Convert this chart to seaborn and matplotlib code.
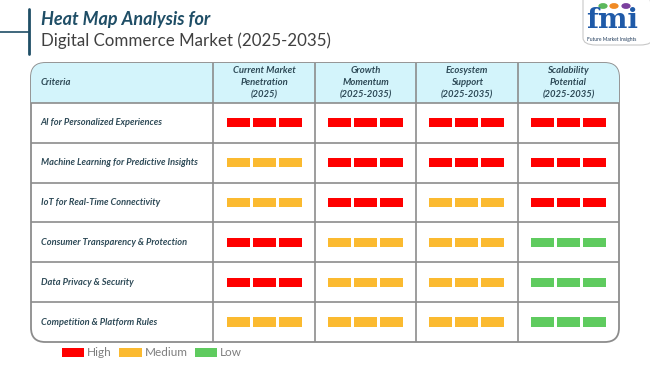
import numpy as np
import pandas as pd
import matplotlib
matplotlib.use('Agg')
import matplotlib.pyplot as plt
import seaborn as sns
from matplotlib.patches import FancyBboxPatch, Rectangle, Patch

# table content
criteria = ['AI for Personalized Experiences',
            'Machine Learning for Predictive Insights',
            'IoT for Real-Time Connectivity',
            'Consumer Transparency & Protection',
            'Data Privacy & Security',
            'Competition & Platform Rules']
columns = ['Current Market\nPenetration\n(2025)',
           'Growth\nMomentum\n(2025-2035)',
           'Ecosystem\nSupport\n(2025-2035)',
           'Scalability\nPotential\n(2025-2035)']
current_penetration = ['High', 'Medium', 'Medium', 'High', 'High', 'Medium']
growth_momentum = ['High', 'High', 'High', 'Medium', 'Medium', 'Medium']
ecosystem_support = ['High', 'High', 'Medium', 'Medium', 'Medium', 'Medium']
scalability_potential = ['High', 'High', 'High', 'Low', 'Low', 'Low']
levels = ['High', 'Medium', 'Low']
level_colors = {'High': '#FF0000', 'Medium': '#FBBA30', 'Low': '#5FCB5F'}

df = pd.DataFrame({columns[0]: current_penetration, columns[1]: growth_momentum,
                   columns[2]: ecosystem_support, columns[3]: scalability_potential},
                  index=criteria)

sns.set_theme(style='white')
plt.rcParams['font.family'] = ['Lato', 'DejaVu Sans']

fig = plt.figure(figsize=(6.5, 3.65), dpi=100)
txt_color = '#2E4A57'
line_color = '#8C8C8C'

# title block
fig.add_artist(plt.Line2D([29 / 650, 29 / 650], [1 - 9 / 365, 1 - 54 / 365], color='#1F4E66', lw=2))
fig.add_artist(plt.Line2D([0, 29 / 650], [1 - 32 / 365, 1 - 32 / 365], color='#1F4E66', lw=1.2))
fig.text(41 / 650, 1 - 19 / 365, 'Heat Map Analysis for', fontsize=13, fontweight='bold',
         fontstyle='italic', color='#1F4E66', va='center')
fig.text(41 / 650, 1 - 41 / 365, 'Digital Commerce Market (2025-2035)', fontsize=12.2,
         color='#404040', va='center')

# logo
logo = FancyBboxPatch((583 / 650, 1 - 45 / 365), 70 / 650, 60 / 365,
                      boxstyle='round,pad=0,rounding_size=0.02', transform=fig.transFigure,
                      facecolor='none', edgecolor='#C8C8C8', lw=0.8)
fig.add_artist(logo)
fig.text(612 / 650, 1 - 20 / 365, 'fmi', fontsize=20, fontweight='bold', color='#1F5AA8',
         ha='center', va='center', family='DejaVu Serif')
fig.text(612 / 650, 1 - 40 / 365, 'Future Market Insights', fontsize=3.5, color='#1F3A5A',
         ha='center', va='center')
for cx, c in zip([603, 614, 626], ['#5CB85C', '#F08A24', '#7B3F9E']):
    fig.add_artist(plt.Circle((cx / 650, 1 - 6 / 365), 0.006, color=c, transform=fig.transFigure))

# table axes
ax = fig.add_axes([31 / 650, 1 - 342 / 365, 588 / 650, 279 / 365])
first_w = 1.8
ncol = len(columns)
nrow = len(criteria)
total_w = first_w + ncol
ax.set_xlim(0, total_w)
ax.set_ylim(nrow + 1, 0)
ax.axis('off')

aspect = (588 / total_w) / (279 / (nrow + 1))
box = FancyBboxPatch((0, 0), total_w, nrow + 1, boxstyle='round,pad=0,rounding_size=0.14',
                     mutation_aspect=aspect, facecolor='white', edgecolor=line_color, lw=1.3,
                     zorder=1, clip_on=False)
ax.add_patch(box)
header = Rectangle((0, 0), total_w, 1, facecolor='#D3F4FB', edgecolor='none', zorder=1.5)
ax.add_patch(header)
header.set_clip_path(box)

for i in range(1, nrow + 1):
    ax.plot([0, total_w], [i, i], color=line_color, lw=1.2, zorder=2)
for j in range(ncol):
    ax.plot([first_w + j, first_w + j], [0, nrow + 1], color=line_color, lw=1.2, zorder=2)

ax.text(0.095, 0.5, 'Criteria', fontsize=6.8, fontweight='bold', fontstyle='italic',
        color=txt_color, va='center', ha='left')
for j, col in enumerate(columns):
    ax.text(first_w + j + 0.5, 0.5, col, fontsize=6.8, fontweight='bold', fontstyle='italic',
            color=txt_color, va='center', ha='center', linespacing=1.45)

bar_w = 0.227
gap = 0.03
bar_h = 0.23
for i, name in enumerate(criteria):
    ax.text(0.095, i + 1.5, name, fontsize=6.7, fontweight='bold', fontstyle='italic',
            color=txt_color, va='center', ha='left')
    for j, col in enumerate(columns):
        c = level_colors[df.loc[name, col]]
        centers = first_w + j + 0.5 + np.array([-1, 0, 1]) * (bar_w + gap)
        ax.bar(centers, bar_h, width=bar_w, bottom=i + 1.5 - bar_h / 2, color=c,
               edgecolor='none', zorder=3)

handles = [Patch(facecolor=level_colors[l], edgecolor='none', label=l) for l in levels]
fig.legend(handles=handles, loc='center left', bbox_to_anchor=(56 / 650, 1 - 353 / 365),
           ncol=3, frameon=False, fontsize=8.5, handlelength=1.9, handleheight=0.8,
           handletextpad=0.25, columnspacing=0.6, labelcolor='#7F7F7F', borderpad=0)

fig.savefig('out.png', dpi=100, facecolor='white')
